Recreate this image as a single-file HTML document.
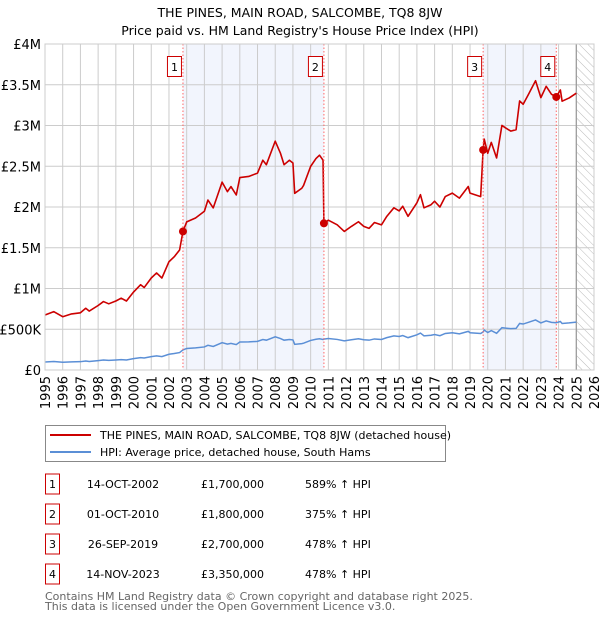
<!DOCTYPE html>
<html><head><meta charset="utf-8"><style>
body{margin:0;background:#fff;width:600px;height:620px;overflow:hidden}
svg{display:block;font-family:"DejaVu Sans","Liberation Sans",sans-serif}
</style></head><body>
<svg id="c" width="600" height="620" viewBox="0 0 600 620">
<defs><pattern id="hatch" width="6" height="6" patternUnits="userSpaceOnUse" patternTransform="rotate(-45)"><line x1="0" y1="0" x2="0" y2="6" stroke="#bbb" stroke-width="1"/></pattern></defs>
<text x="300" y="17" text-anchor="middle" font-size="12.5" fill="#000">THE PINES, MAIN ROAD, SALCOMBE, TQ8 8JW</text>
<text x="300" y="35" text-anchor="middle" font-size="12.5" fill="#000">Price paid vs. HM Land Registry's House Price Index (HPI)</text>
<g id="bands"></g><g id="grid"></g><g id="series"></g><g id="marks"></g><g id="axes"></g>
<g>
<rect x="45.5" y="425.5" width="400" height="36" fill="#fff" stroke="#888"/>
<line x1="50" y1="435" x2="91" y2="435" stroke="#cc0000" stroke-width="2"/>
<text x="100" y="439" font-size="11">THE PINES, MAIN ROAD, SALCOMBE, TQ8 8JW (detached house)</text>
<line x1="50" y1="452" x2="91" y2="452" stroke="#5b8fd6" stroke-width="2"/>
<text x="100" y="456" font-size="11">HPI: Average price, detached house, South Hams</text>
</g>
<g id="table" font-size="11"></g>
<text x="45" y="600" font-size="11" fill="#666">Contains HM Land Registry data © Crown copyright and database right 2025.</text>
<text x="45" y="610" font-size="11" fill="#666">This data is licensed under the Open Government Licence v3.0.</text>
</svg>
<script>
const hpiDates=[1995.0,1995.5,1996,1996.5,1997,1997.3,1997.5,1998,1998.3,1998.6,1999,1999.3,1999.6,2000,2000.4,2000.6,2001,2001.3,2001.6,2002,2002.3,2002.6,2002.79,2003,2003.5,2004,2004.2,2004.5,2005,2005.3,2005.5,2005.8,2006,2006.5,2007,2007.3,2007.5,2008,2008.3,2008.5,2008.8,2009,2009.1,2009.5,2009.6,2010,2010.3,2010.5,2010.7,2010.75,2011,2011.5,2011.9,2012.3,2012.7,2013,2013.3,2013.6,2014,2014.3,2014.7,2015,2015.2,2015.5,2016,2016.2,2016.4,2016.8,2017,2017.3,2017.6,2018,2018.4,2018.9,2019,2019.6,2019.74,2019.8,2020,2020.2,2020.5,2020.8,2021,2021.3,2021.6,2021.8,2022,2022.3,2022.7,2023,2023.3,2023.6,2023.87,2024.1,2024.2,2024.6,2025.0];
const hpiValues=[98,104,95,100,102,110,105,115,122,118,123,128,123,139,152,147,164,173,164,193,202,214,247,264,271,283,303,289,335,318,327,312,343,345,351,374,366,408,386,366,374,369,315,324,329,363,377,383,374,379,387,375,358,371,383,371,366,381,375,397,419,411,423,397,432,453,419,427,436,421,448,457,444,474,457,448,467,490,460,483,450,519,514,507,510,571,564,585,614,578,602,585,580,595,571,578,588];
const saleLabels=["1","2","3","4"];
const saleDates=[2002.79,2010.75,2019.74,2023.87];
const salePrices=[1700000,1800000,2700000,3350000];
const saleDateText=["14-OCT-2002","01-OCT-2010","26-SEP-2019","14-NOV-2023"];
const salePriceText=["£1,700,000","£1,800,000","£2,700,000","£3,350,000"];
const saleHpiText=["589% ↑ HPI","375% ↑ HPI","478% ↑ HPI","478% ↑ HPI"];
const yTicks=[0,500000,1000000,1500000,2000000,2500000,3000000,3500000,4000000];
const yTickLabels=["£0","£500K","£1M","£1.5M","£2M","£2.5M","£3M","£3.5M","£4M"];
const xYears=[1995,1996,1997,1998,1999,2000,2001,2002,2003,2004,2005,2006,2007,2008,2009,2010,2011,2012,2013,2014,2015,2016,2017,2018,2019,2020,2021,2022,2023,2024,2025,2026];

const NS="http://www.w3.org/2000/svg";
const X0=45,X1=594,Y0=370,Y1=44;
const xs=t=>X0+(t-1995)/31*(X1-X0);
const ys=v=>Y0-v/4000000*(Y0-Y1);
function mk(tag,attrs,parent){const e=document.createElementNS(NS,tag);for(const k in attrs)e.setAttribute(k,attrs[k]);parent.appendChild(e);return e;}
const bands=document.getElementById('bands'),grid=document.getElementById('grid'),series=document.getElementById('series'),marks=document.getElementById('marks'),axes=document.getElementById('axes'),table=document.getElementById('table');

function hpiAt(t){for(let i=1;i<hpiDates.length;i++){if(t<=hpiDates[i]){const a=hpiDates[i-1],b=hpiDates[i];return hpiValues[i-1]+(hpiValues[i]-hpiValues[i-1])*(t-a)/(b-a);}}return hpiValues[hpiValues.length-1];}
const ratios=saleDates.map((d,i)=>salePrices[i]/(hpiAt(d)*1000));

for(let i=0;i<saleDates.length;i+=2){
  const a=saleDates[i],b=i+1<saleDates.length?saleDates[i+1]:2025;
  const r=mk('rect',{x:xs(a),y:Y1,width:xs(b)-xs(a),height:Y0-Y1,fill:'#f2f5fd'},bands);
  
  
}
const h=mk('rect',{x:xs(2025),y:Y1,width:xs(2026)-xs(2025),height:Y0-Y1,fill:'url(#hatch)'},bands);



yTicks.forEach((v,i)=>{
  const l=mk('line',{x1:X0,x2:X1,y1:ys(v),y2:ys(v),stroke:'#ccc','stroke-width':1},grid);
  
  
  const t=mk('text',{x:X0-4,y:ys(v)+5,'text-anchor':'end','font-size':13,fill:'#000'},axes);
  t.textContent=yTickLabels[i];
  
  
});
xYears.forEach(yr=>{
  const l=mk('line',{x1:xs(yr),x2:xs(yr),y1:Y1,y2:Y0,stroke:'#ccc','stroke-width':1},grid);
  
  
  const t=mk('text',{x:0,y:0,'text-anchor':'end','font-size':13,fill:'#000',transform:`translate(${xs(yr)+5},${Y0+6}) rotate(-90)`},axes);
  t.textContent=String(yr);
  
  
});
const vl=mk('line',{x1:xs(2025),x2:xs(2025),y1:Y1,y2:Y0,stroke:'#999','stroke-width':1.2},grid);



const hp=mk('polyline',{points:hpiDates.map((d,i)=>xs(d)+','+ys(hpiValues[i]*1000)).join(' '),fill:'none',stroke:'#5b8fd6','stroke-width':1.5},series);


const rp=hpiDates.map((d,i)=>{let k=0;for(let j=0;j<saleDates.length;j++)if(d>=saleDates[j]-1e-9)k=j;return xs(d)+','+ys(hpiValues[i]*1000*ratios[k]);});
const pl=mk('polyline',{points:rp.join(' '),fill:'none',stroke:'#cc0000','stroke-width':1.6,'stroke-linejoin':'round'},series);



saleDates.forEach((d,i)=>{
  const x=xs(d);
  const l=mk('line',{x1:x,x2:x,y1:Y1,y2:Y0,stroke:'#ff6666','stroke-width':1,'stroke-dasharray':'1.5,2'},marks);
  
  
  const b=mk('rect',{x:x-15.5,y:56.5,width:14,height:20,fill:'#fff',stroke:'#cc0000'},marks);
  
  
  const t=mk('text',{x:x-8.5,y:71,'text-anchor':'middle','font-size':11},marks);
  t.textContent=saleLabels[i];
  
  
  const c=mk('circle',{cx:x,cy:ys(salePrices[i]),r:4,fill:'#cc0000'},marks);
  
  
});
const ax=mk('rect',{x:X0,y:Y1,width:X1-X0,height:Y0-Y1,fill:'none',stroke:'#ccc'},axes);



saleLabels.forEach((s,i)=>{
  const cy=484+i*30;
  const b=mk('rect',{x:45.5,y:cy-10,width:14,height:20,fill:'#fff',stroke:'#cc0000'},table);
  
  
  const t=mk('text',{x:52.5,y:cy+4,'text-anchor':'middle'},table);t.textContent=s;
  
  
  const d=mk('text',{x:123,y:cy+4,'text-anchor':'middle'},table);d.textContent=saleDateText[i];
  
  
  const p=mk('text',{x:264,y:cy+4,'text-anchor':'end'},table);p.textContent=salePriceText[i];
  
  
  const q=mk('text',{x:305,y:cy+4},table);q.textContent=saleHpiText[i];
  
  
});
</script>
</body></html>
